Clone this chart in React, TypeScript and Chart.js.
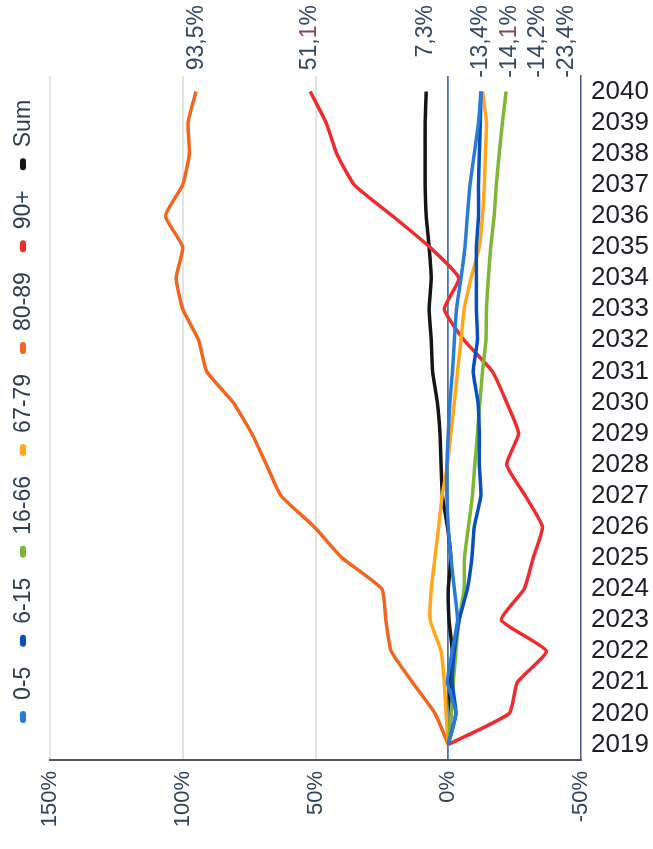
import React, { useEffect, useRef } from "react";
import { Chart, registerables } from "chart.js";

Chart.register(...registerables);

const YEARS = [
  "2019", "2020", "2021", "2022", "2023", "2024", "2025", "2026", "2027", "2028", "2029",
  "2030", "2031", "2032", "2033", "2034", "2035", "2036", "2037", "2038", "2039", "2040",
];

const SERIES_NAMES = ["0-5", "6-15", "16-66", "67-79", "80-89", "90+", "Sum"];
const SERIES_COLORS = ["#2a7bd6", "#0a4fbf", "#7db733", "#ffa61c", "#f0661e", "#ee2b2f", "#151515"];

const S_0_5 = [0, -2.9, 0.3, -1.5, -3.5, -2.3, -1, 0, 0.5, 0.5, 0, -0.6, -1.6, -2.3, -3.1, -4.8, -6.3, -7.2, -8.2, -9.8, -11.4, -12.3];
const S_6_15 = [0, -2.9, -1.5, -2.3, -4.1, -7.2, -8.9, -9.8, -12.3, -11.7, -11.7, -11.2, -9.4, -11, -10.6, -10.6, -10.6, -11.4, -11.4, -11.7, -12.1, -12.3];
const S_16_66 = [0, -1.1, -1.9, -2.9, -4.1, -6, -6.1, -7.6, -9.1, -10, -11, -11.9, -12.9, -14.2, -14.4, -15.1, -16, -17.3, -18.1, -19.2, -20.4, -21.8];
const S_67_79 = [0, 0.8, 1.5, 2.7, 6.8, 6.4, 5, 3.6, 2.3, 0.3, -1, -2.3, -3.5, -4.8, -6, -8.6, -11.7, -12.9, -13.6, -14, -14.4, -12.9];
const S_80_89 = [0, 5, 13.5, 21.5, 23.5, 25, 40, 50.5, 63, 68.5, 74, 81, 91, 94, 100, 102.5, 100, 106.5, 100, 97.5, 98, 95];
const S_90 = [0, -23, -26, -37, -20, -28.6, -32, -35.5, -29, -22, -26.5, -22, -16.6, -6, 1.5, -4, 7, 21, 35.4, 42, 46, 52];
const S_SUM = [0, -1, -0.3, -1.5, -0.3, 0, -1, 0.3, 2.2, 2.7, 3.1, 4.1, 5.9, 6.4, 7.2, 6.4, 7.2, 8.3, 8.7, 8.7, 8.7, 8.3];

const END_LABEL_VALUES = [93.5, 51.1, 7.3, -13.4, -14.1, -14.2, -23.4];
const END_LABEL_TEXTS = ["93,5%", "51,1%", "7,3%", "-13,4%", "-14,1%", "-14,2%", "-23,4%"];
const END_LABEL_ACCENT = [-1, 3, -1, -1, 4, -1, -1];

const X_TICKS = [-50, 0, 50, 100, 150];

const FONT = "'Liberation Sans', Arial, sans-serif";

const legendPlugin = {
  id: "rotLegend",
  afterDraw(chart: any) {
    const ctx = chart.ctx;
    ctx.save();
    ctx.translate(23, 723);
    ctx.rotate(-Math.PI / 2);
    ctx.font = `23px ${FONT}`;
    ctx.textBaseline = "middle";
    ctx.textAlign = "left";
    let pos = 0;
    SERIES_NAMES.forEach((name, i) => {
      ctx.strokeStyle = SERIES_COLORS[i];
      ctx.lineWidth = 6;
      ctx.lineCap = "round";
      ctx.beginPath();
      ctx.moveTo(pos + 3, 0);
      ctx.lineTo(pos + 9, 0);
      ctx.stroke();
      pos += 12 + 11;
      ctx.fillStyle = "#2c3e50";
      ctx.fillText(name, pos, 1);
      pos += ctx.measureText(name).width + 20;
    });
    ctx.restore();
  },
};

const endLabelPlugin = {
  id: "endLabels",
  afterDraw(chart: any) {
    const ctx = chart.ctx;
    const xs = chart.scales.x;
    const items = END_LABEL_VALUES.map((v, i) => ({ i, px: xs.getPixelForValue(v) - 4 }));
    items.sort((a, b) => a.px - b.px);
    for (let k = 1; k < items.length; k++) {
      if (items[k].px < items[k - 1].px + 28.5) items[k].px = items[k - 1].px + 28.5;
    }
    ctx.save();
    ctx.font = `23px ${FONT}`;
    ctx.textBaseline = "middle";
    ctx.textAlign = "left";
    items.forEach(({ i, px }) => {
      const text = END_LABEL_TEXTS[i];
      const w = ctx.measureText(text).width;
      ctx.save();
      ctx.translate(px, 5);
      ctx.rotate(-Math.PI / 2);
      let x = -w;
      for (let c = 0; c < text.length; c++) {
        const ch = text[c];
        ctx.fillStyle = c === END_LABEL_ACCENT[i] ? "#7a4a52" : "#34495e";
        ctx.fillText(ch, x, 1);
        x += ctx.measureText(ch).width;
      }
      ctx.restore();
    });
    ctx.restore();
  },
};

export default function App() {
  const ref = useRef<HTMLCanvasElement | null>(null);

  useEffect(() => {
    if (!ref.current) return;
    const all = [S_0_5, S_6_15, S_16_66, S_67_79, S_80_89, S_90, S_SUM];
    const chart = new Chart(ref.current, {
      type: "line",
      data: {
        labels: YEARS,
        datasets: all.map((d, i) => ({
          label: SERIES_NAMES[i],
          data: d,
          borderColor: SERIES_COLORS[i],
          backgroundColor: SERIES_COLORS[i],
          borderWidth: 3.5,
          pointRadius: 0,
          tension: 0.15,
          fill: false,
        })),
      },
      options: {
        indexAxis: "y",
        responsive: false,
        animation: false,
        layout: { padding: { top: 76, left: 50, right: 4, bottom: 19 } },
        plugins: { legend: { display: false }, tooltip: { enabled: false } },
        scales: {
          x: {
            type: "linear",
            min: -50,
            max: 150,
            reverse: true,
            position: "bottom",
            afterBuildTicks: (axis: any) => {
              axis.ticks = X_TICKS.map((v) => ({ value: v }));
            },
            afterFit: (axis: any) => {
              axis.height = 70;
            },
            ticks: {
              callback: (v: any) => v + "%",
              minRotation: 90,
              maxRotation: 90,
              padding: 11,
              color: "#2f4356",
              font: { size: 22, family: FONT },
            },
            grid: {
              drawTicks: false,
              color: (c: any) =>
                c.tick && c.tick.value === 0
                  ? "#4f74aa"
                  : c.tick && c.tick.value === -50
                  ? "rgba(0,0,0,0)"
                  : "#e4e4e4",
              lineWidth: (c: any) => (c.tick && c.tick.value === 0 ? 1.8 : 2),
            },
            border: { display: true, color: "#555", width: 2 },
          },
          y: {
            type: "category",
            reverse: true,
            position: "right",
            offset: true,
            afterFit: (axis: any) => {
              axis.width = 68;
            },
            grid: { display: false, drawTicks: false },
            border: { display: true, color: "#4a5a72", width: 1.5 },
            ticks: {
              autoSkip: false,
              padding: 10,
              color: "#1e1e28",
              font: { size: 26, family: FONT },
            },
          },
        },
      },
      plugins: [legendPlugin, endLabelPlugin],
    } as any);
    return () => chart.destroy();
  }, []);

  return (
    <div style={{ position: "absolute", left: 0, top: 0, width: 653, height: 849, background: "#fff" }}>
      <canvas ref={ref} width={653} height={849} />
    </div>
  );
}
